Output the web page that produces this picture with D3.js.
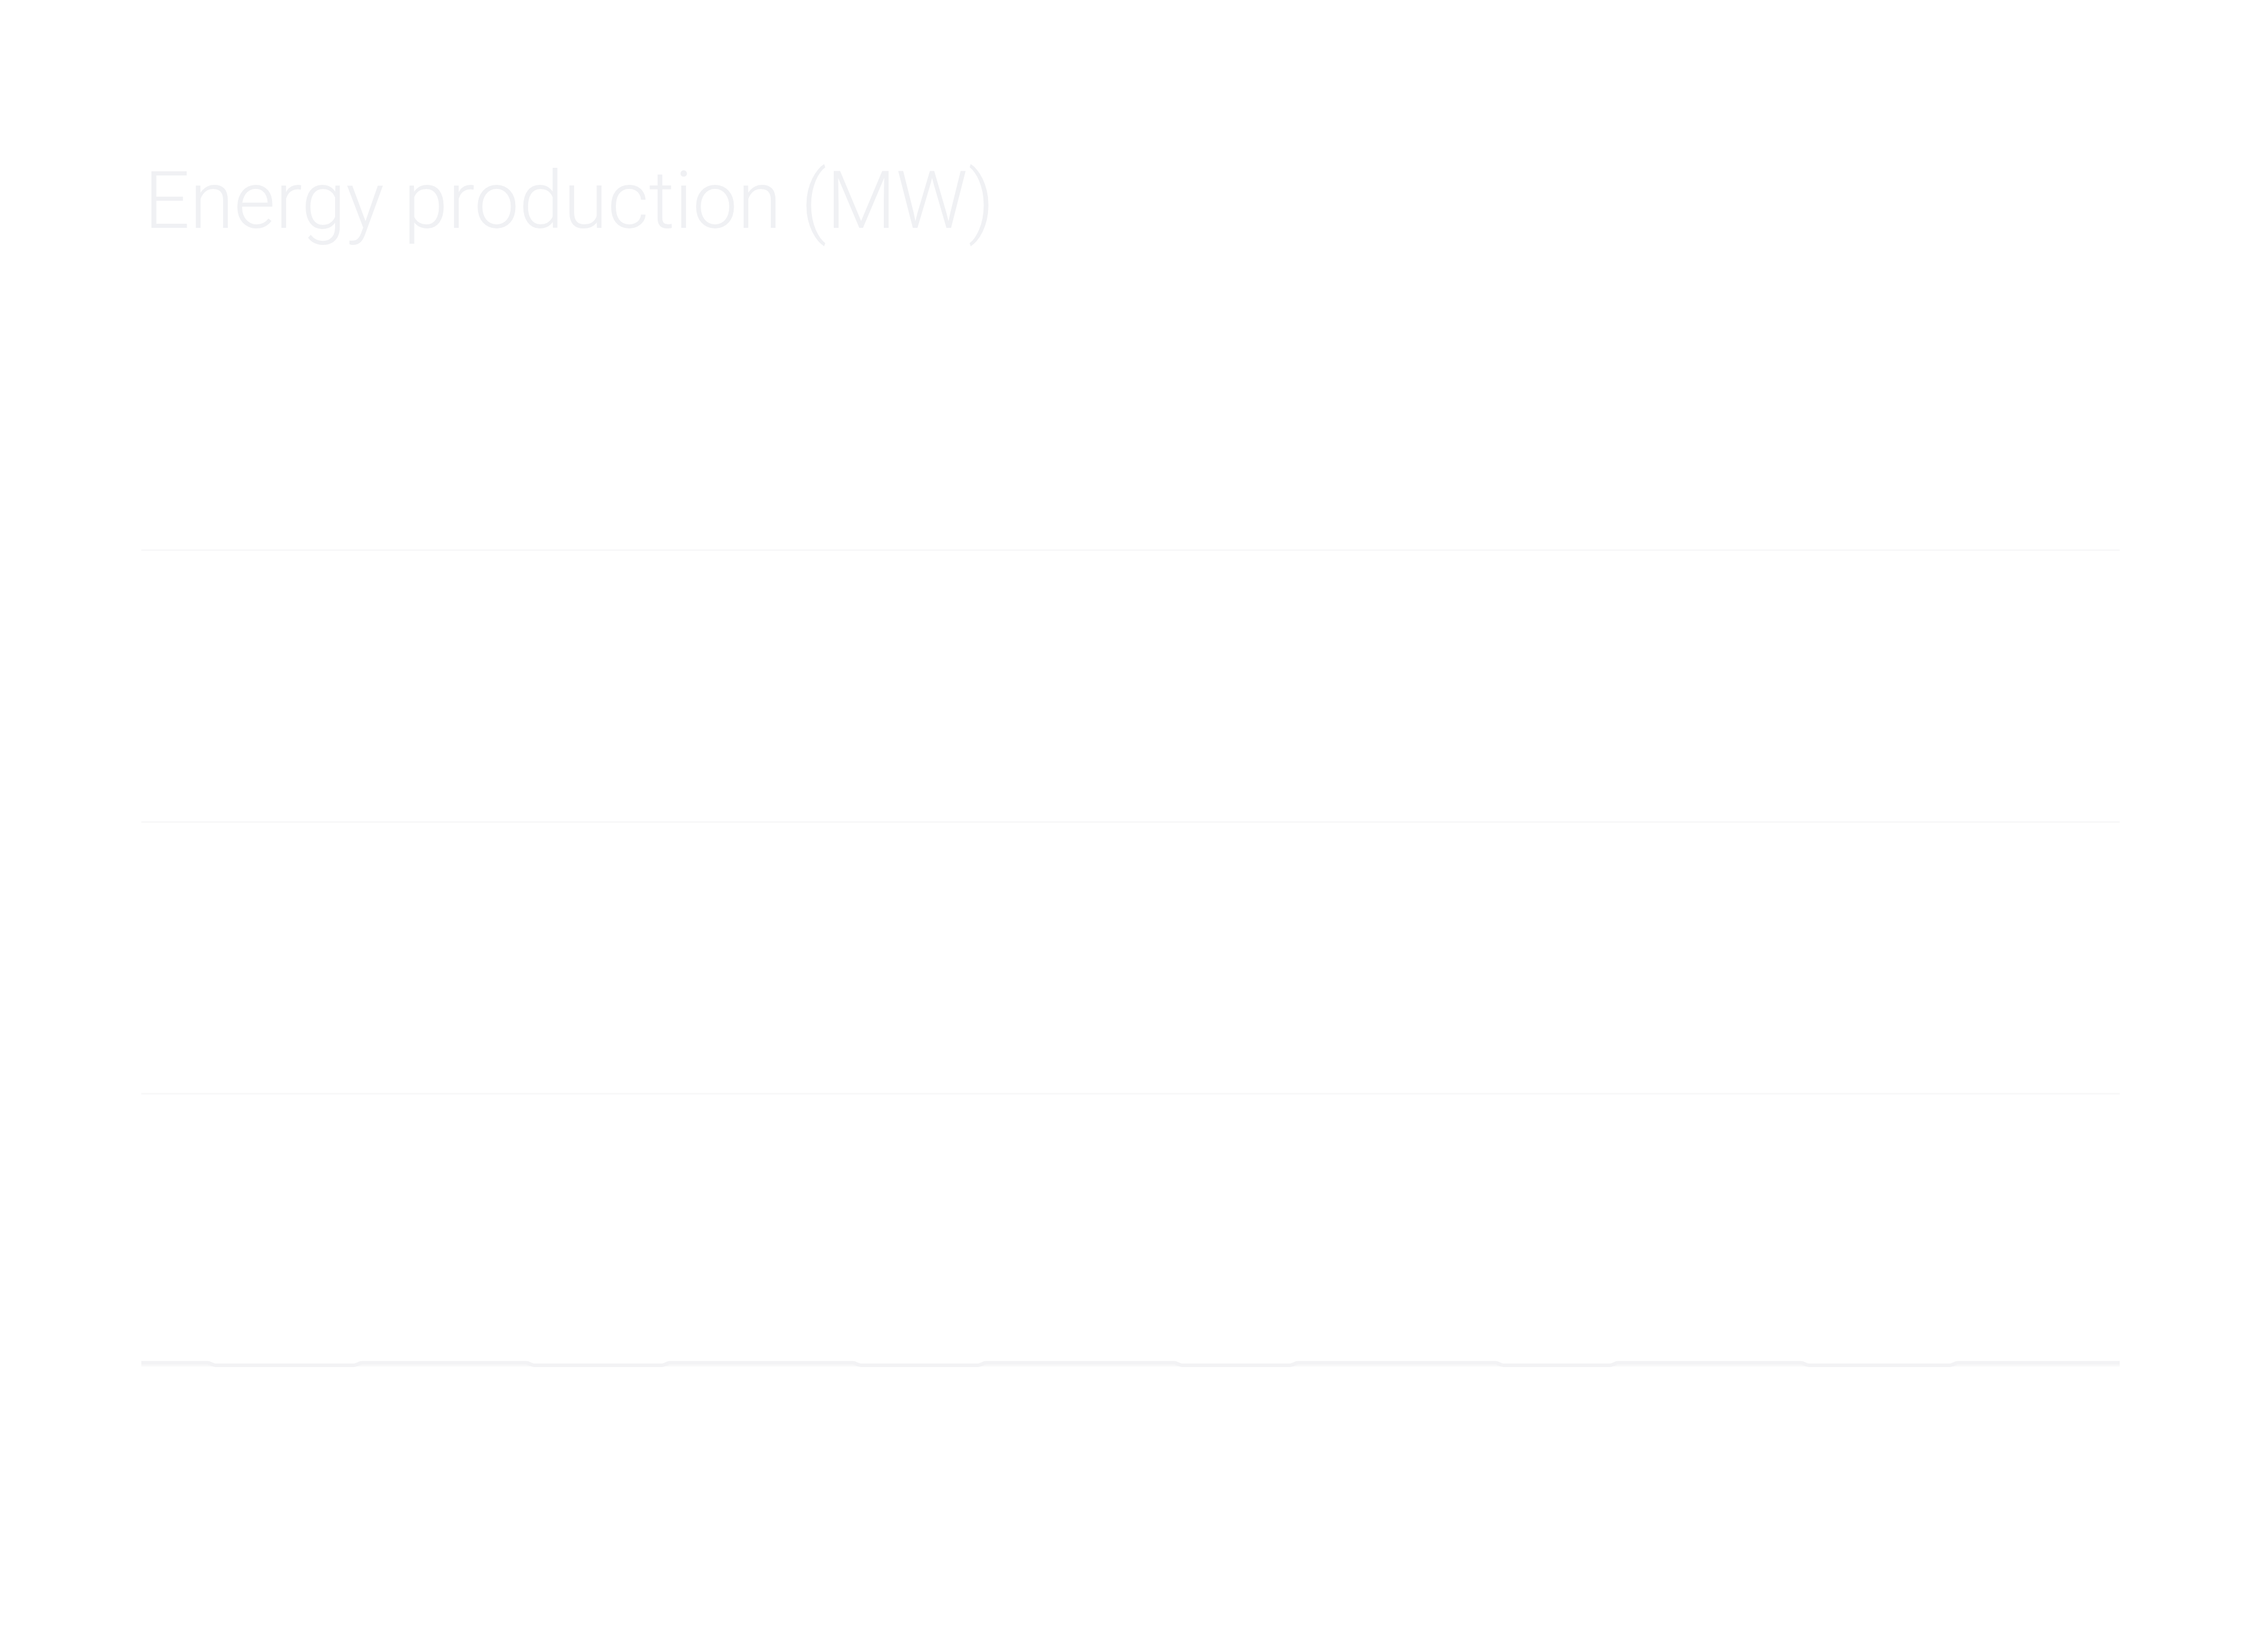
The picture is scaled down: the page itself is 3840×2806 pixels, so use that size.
<!DOCTYPE html>
<html>
<head>
<meta charset="utf-8">
<script src="https://cdn.jsdelivr.net/npm/d3@7"></script>
<style>
  body { margin: 0; background: #ffffff; }
</style>
</head>
<body>
<script>
// data: hours since start, output in MW
const hours  = [0, 5, 5.6, 16, 16.6, 29, 29.6, 39.2, 39.8, 53.6, 54.2, 63, 63.6, 77.8, 78.4, 86.5, 87.1, 102, 102.6, 110.6, 111.2, 125, 125.6, 136.2, 136.8, 149];
const output = [0.9, 0.9, 0, 0, 0.9, 0.9, 0, 0, 0.9, 0.9, 0, 0, 0.9, 0.9, 0, 0, 0.9, 0.9, 0, 0, 0.9, 0.9, 0, 0, 0.9, 0.9];
const yTicks = [0, 100, 200, 300];

const width = 3840, height = 2806;
const margin = { top: 934, right: 240, bottom: 487, left: 240 };

const svg = d3.select("body").append("svg")
    .attr("width", width)
    .attr("height", height)
    .style("background-color", "#ffffff");

svg.append("text")
    .attr("x", 245)
    .attr("y", 387)
    .attr("font-family", "Roboto")
    .attr("font-weight", 300)
    .attr("font-size", 136)
    .attr("fill", "#f0f1f4")
    .text("Energy production (MW)");

const x = d3.scaleLinear()
    .domain([0, 149])
    .range([margin.left, width - margin.right]);

const y = d3.scaleLinear()
    .domain([0, 300])
    .range([height - margin.bottom, margin.top]);

// gridlines
svg.append("g")
    .attr("transform", `translate(${margin.left},0)`)
    .call(d3.axisLeft(y).tickValues(yTicks).tickSize(-(width - margin.left - margin.right)).tickFormat(""))
    .call(g => g.select(".domain").remove())
    .call(g => g.selectAll(".tick line").attr("stroke", "#f8f8f9").attr("stroke-width", 3));

const points = hours.map((h, i) => ({ h: h, v: output[i] }));

const line = d3.line()
    .x(d => x(d.h))
    .y(d => y(d.v))
    .curve(d3.curveMonotoneX);

svg.append("path")
    .datum(points)
    .attr("fill", "none")
    .attr("stroke", "#f3f3f5")
    .attr("stroke-width", 6)
    .attr("stroke-linejoin", "round")
    .attr("d", line);
</script>
</body>
</html>
